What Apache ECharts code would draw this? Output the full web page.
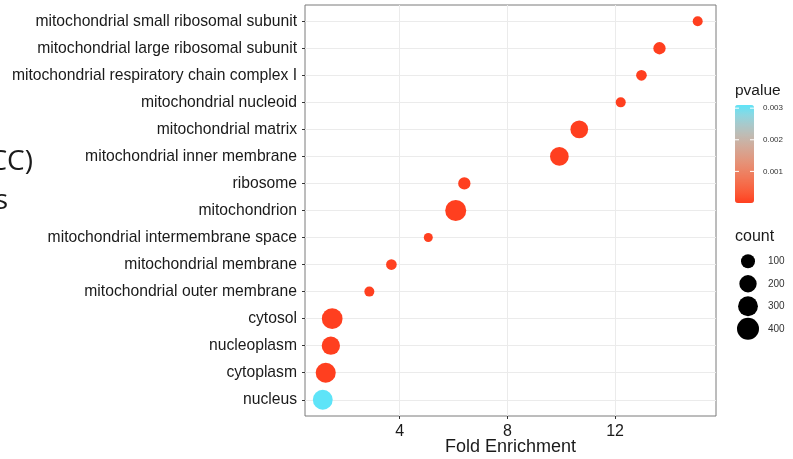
<!DOCTYPE html>
<html>
<head>
<meta charset="utf-8">
<script src="https://cdn.jsdelivr.net/npm/echarts@6/dist/echarts.min.js"></script>
<style>
  html, body { margin: 0; padding: 0; background: #fff; }
  #chart { width: 793px; height: 459px; }
</style>
</head>
<body>
<div id="chart"></div>
<script>
// GO cellular component terms, top to bottom
const terms = [
  'mitochondrial small ribosomal subunit',
  'mitochondrial large ribosomal subunit',
  'mitochondrial respiratory chain complex I',
  'mitochondrial nucleoid',
  'mitochondrial matrix',
  'mitochondrial inner membrane',
  'ribosome',
  'mitochondrion',
  'mitochondrial intermembrane space',
  'mitochondrial membrane',
  'mitochondrial outer membrane',
  'cytosol',
  'nucleoplasm',
  'cytoplasm',
  'nucleus',
]
const foldEnrichment = [15.07, 13.65, 12.98, 12.21, 10.67, 9.93, 6.40, 6.08, 5.06, 3.69, 2.87, 1.49, 1.44, 1.25, 1.14]
const counts = [25, 62, 34, 25, 214, 252, 62, 352, 14, 34, 25, 338, 236, 310, 300]
const pvalues = [2e-6, 1e-9, 4e-7, 3e-6, 1e-12, 1e-14, 5e-7, 1e-20, 8e-6, 2e-5, 1e-5, 1e-15, 3e-8, 1e-10, 0.0031]

const xTicks = [4, 8, 12]
const pTicks = [0.001, 0.002, 0.003]
const countTicks = [100, 200, 300, 400]

const red = [255, 63, 31]
const cyan = [94, 228, 248]
const pMax = 0.0031

const sizeOf = (c) => 6 + 0.8 * Math.sqrt(c)

// ggplot blends gradients in Lab space, so build a few stops that way
const toLab = (rgb) => {
  const lin = rgb.map((v) => { v /= 255; return v > 0.04045 ? Math.pow((v + 0.055) / 1.055, 2.4) : v / 12.92 })
  const X = (lin[0] * 0.4124 + lin[1] * 0.3576 + lin[2] * 0.1805) / 0.95047
  const Y = lin[0] * 0.2126 + lin[1] * 0.7152 + lin[2] * 0.0722
  const Z = (lin[0] * 0.0193 + lin[1] * 0.1192 + lin[2] * 0.9505) / 1.08883
  const f = (t) => (t > 0.008856 ? Math.cbrt(t) : 7.787 * t + 16 / 116)
  return [116 * f(Y) - 16, 500 * (f(X) - f(Y)), 200 * (f(Y) - f(Z))]
}
const fromLab = (lab) => {
  const fy = (lab[0] + 16) / 116
  const fx = fy + lab[1] / 500
  const fz = fy - lab[2] / 200
  const g = (t) => (t ** 3 > 0.008856 ? t ** 3 : (t - 16 / 116) / 7.787)
  const X = g(fx) * 0.95047, Y = g(fy), Z = g(fz) * 1.08883
  const lin = [
    X * 3.2406 + Y * -1.5372 + Z * -0.4986,
    X * -0.9689 + Y * 1.8758 + Z * 0.0415,
    X * 0.0557 + Y * -0.204 + Z * 1.057,
  ]
  const c = lin.map((v) => {
    v = v > 0.0031308 ? 1.055 * Math.pow(v, 1 / 2.4) - 0.055 : 12.92 * v
    return Math.round(Math.min(1, Math.max(0, v)) * 255)
  })
  return 'rgb(' + c.join(',') + ')'
}
const labA = toLab(red)
const labB = toLab(cyan)
const palette = []
for (let k = 0; k <= 10; k++) {
  const t = k / 10
  palette.push(fromLab(labA.map((v, j) => v + (labB[j] - v) * t)))
}

const chart = echarts.init(document.getElementById('chart'))

const points = terms.map((t, i) => [foldEnrichment[i], i, counts[i], pvalues[i]])

// colour bar geometry (legend only)
const barTop = 105
const barH = 98
const barLeft = 735
const barW = 19

const graphics = [
  { type: 'text', right: 793 - 33, top: 148, style: { text: '(CC)', font: '28px "Open Sans", sans-serif', fill: '#1a1a1a', textAlign: 'right' } },
  { type: 'text', right: 793 - 8, top: 187, style: { text: 's', font: '28px "Open Sans", sans-serif', fill: '#1a1a1a', textAlign: 'right' } },
  { type: 'text', left: 735, top: 83, style: { text: 'pvalue', font: '15.5px "Liberation Sans", Arial', fill: '#1a1a1a' } },
  { type: 'text', left: 735, top: 229, style: { text: 'count', font: '16px "Liberation Sans", Arial', fill: '#1a1a1a' } },
]
pTicks.forEach((p) => {
  const y = barTop + barH - (p / pMax) * barH
  graphics.push({ type: 'line', shape: { x1: barLeft, y1: y, x2: barLeft + 4, y2: y }, style: { stroke: '#fff', lineWidth: 1 }, z: 100 })
  graphics.push({ type: 'line', shape: { x1: barLeft + barW - 4, y1: y, x2: barLeft + barW, y2: y }, style: { stroke: '#fff', lineWidth: 1 }, z: 100 })
  graphics.push({ type: 'text', left: 763, top: y - 4, style: { text: String(p), font: '8px "Liberation Sans", Arial', fill: '#333' } })
})

const option = {
  animation: false,
  backgroundColor: '#fff',
  textStyle: { fontFamily: '"Liberation Sans", Arial, sans-serif' },
  grid: [
    { left: 305, top: 5, width: 411, height: 411, show: true, borderColor: '#7a7a7a', borderWidth: 1, backgroundColor: 'transparent', outerBoundsMode: 'none', containLabel: false },
    { left: 738, top: 250, width: 20, height: 90, outerBoundsMode: 'none', containLabel: false },
  ],
  xAxis: [
    {
      type: 'value',
      gridIndex: 0,
      min: 0.48,
      max: 15.75,
      splitNumber: 8,
      name: 'Fold Enrichment',
      nameLocation: 'middle',
      nameGap: 22,
      nameMoveOverlap: false,
      nameTextStyle: { fontSize: 18, color: '#1a1a1a' },
      axisLine: { show: false, onZero: false },
      axisTick: { show: true, length: 3, lineStyle: { color: '#333' }, customValues: xTicks },
      axisLabel: { fontSize: 16, color: '#1a1a1a', margin: 8, customValues: xTicks },
      splitLine: { show: true, lineStyle: { color: '#EBEBEB', width: 1 } },
    },
    {
      type: 'category',
      gridIndex: 1,
      data: ['k'],
      show: false,
    },
  ],
  yAxis: [
    {
      type: 'value',
      gridIndex: 0,
      inverse: true,
      min: -0.6,
      max: 14.6,
      splitNumber: 15,
      axisLine: { show: false, onZero: false },
      axisTick: { show: true, length: 3, lineStyle: { color: '#333' }, customValues: terms.map((t, i) => i) },
      axisLabel: {
        fontSize: 15.7,
        color: '#1a1a1a',
        margin: 8,
        customValues: terms.map((t, i) => i),
        formatter: (v) => (Number.isInteger(v) && terms[v] !== undefined ? terms[v] : ''),
      },
      splitLine: { show: true, lineStyle: { color: '#EBEBEB', width: 1 } },
    },
    {
      type: 'category',
      gridIndex: 1,
      inverse: true,
      position: 'right',
      data: countTicks.map(String),
      axisLine: { show: false },
      axisTick: { show: false },
      splitLine: { show: false },
      axisLabel: { fontSize: 10, color: '#333', margin: 10 },
    },
  ],
  visualMap: {
    type: 'continuous',
    seriesIndex: 0,
    dimension: 3,
    min: 0,
    max: pMax,
    left: barLeft,
    top: barTop,
    itemWidth: barW,
    itemHeight: barH,
    padding: 0,
    text: null,
    calculable: false,
    showLabel: false,
    inRange: { color: palette },
  },
  graphic: graphics,
  series: [
    {
      type: 'scatter',
      xAxisIndex: 0,
      yAxisIndex: 0,
      data: points,
      symbolSize: (v) => sizeOf(v[2]),
      itemStyle: { opacity: 1 },
      z: 5,
    },
    {
      type: 'scatter',
      xAxisIndex: 1,
      yAxisIndex: 1,
      data: countTicks.map((c) => ['k', String(c), c]),
      symbolSize: (v) => sizeOf(v[2]),
      itemStyle: { color: '#000', opacity: 1 },
    },
  ],
}

chart.setOption(option)
</script>
</body>
</html>
